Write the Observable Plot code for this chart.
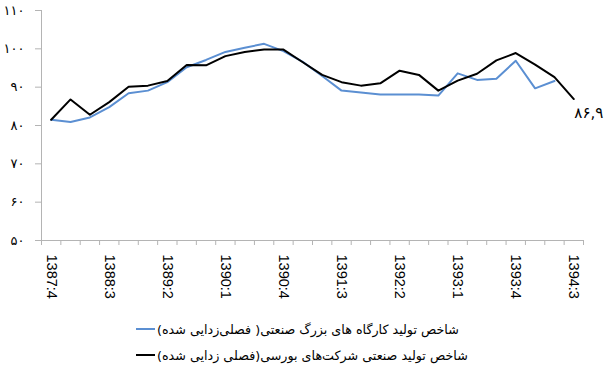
<!DOCTYPE html>
<html><head><meta charset="utf-8">
<script src="https://cdn.jsdelivr.net/npm/d3@7"></script>
<script src="https://cdn.jsdelivr.net/npm/@observablehq/plot@0.6"></script>
<style>
body{margin:0;background:#fff;}
#wrap{position:relative;width:610px;height:372px;overflow:hidden;background:#fff;}
#legend{position:absolute;left:136px;top:316px;font-family:"DejaVu Sans",sans-serif;font-size:12.7px;color:#000;}
.row{display:flex;align-items:center;height:26px;}
.sw{width:19px;height:2px;margin-right:2px;flex:none;}
.lbl{direction:rtl;white-space:nowrap;}
</style></head><body><div id="wrap"></div>
<script>
const quarters = ["1387:4","1388:1","1388:2","1388:3","1388:4","1389:1","1389:2","1389:3","1389:4","1390:1","1390:2","1390:3","1390:4","1391:1","1391:2","1391:3","1391:4","1392:1","1392:2","1392:3","1392:4","1393:1","1393:2","1393:3","1393:4","1394:1","1394:2","1394:3"];
const workshopIndex = [81.5,80.9,82.1,84.8,88.4,89.1,91.3,95.2,97.1,99.2,100.3,101.3,99.4,96.6,92.9,89.1,88.6,88.1,88.1,88.1,87.8,93.6,91.9,92.2,96.9,89.7,91.6];
const bourseIndex = [81.5,86.8,82.8,86.1,90.1,90.4,91.6,95.8,95.7,98.1,99.2,99.8,99.8,96.5,93.2,91.3,90.4,91.0,94.3,93.2,89.1,91.7,93.5,97.0,98.9,95.9,92.6,86.9];
const yTicks = [50,60,70,80,90,100,110];
const labelStep = 3;
const seriesNames = ["شاخص تولید کارگاه های بزرگ صنعتی( فصلی‌زدایی شده)","شاخص تولید صنعتی شرکت‌های بورسی(فصلی زدایی شده)"];
const seriesColors = ["#5b8fd2","#000000"];
const lastLabel = "۸۶,۹";

const fa = s => String(s).replace(/[0-9]/g, d => "۰۱۲۳۴۵۶۷۸۹"[d]);
const n = quarters.length;
const gray = "#b4b4b4";

const chart = Plot.plot({
  width: 610, height: 312,
  marginLeft: 41, marginRight: 27, marginTop: 10, marginBottom: 72,
  style: {background: "#fff", overflow: "visible"},
  x: {type: "linear", domain: [-0.5, n - 0.5]},
  y: {domain: [50, 110]},
  marks: [
    Plot.ruleY([50], {stroke: gray}),
    Plot.ruleX([-0.5], {stroke: gray}),
    Plot.axisY(yTicks, {tickSize: 6, tickPadding: 11, stroke: gray, fill: "#000", tickFormat: fa, fontSize: 13, fontFamily: "DejaVu Sans"}),
    Plot.axisX(d3.range(-0.5, n, 1), {tickSize: 5, stroke: gray, tickFormat: () => ""}),
    Plot.axisX(d3.range(0, n, labelStep), {tickSize: 0, tickPadding: 14, tickRotate: 90, tickFormat: i => quarters[i], fontSize: 14.5, fontFamily: "Liberation Sans", fill: "#000"}),
    Plot.lineY(workshopIndex, {x: (d, i) => i, y: d => d, stroke: seriesColors[0], strokeWidth: 2}),
    Plot.lineY(bourseIndex, {x: (d, i) => i, y: d => d, stroke: seriesColors[1], strokeWidth: 2}),
    Plot.text([n - 1], {x: d => d, y: d => bourseIndex[d], text: () => lastLabel, dx: 15, dy: 14, fontSize: 15, fontFamily: "DejaVu Sans", fill: "#000"})
  ]
});
const wrap = document.getElementById("wrap");
wrap.appendChild(chart);
const legend = document.createElement("div");
legend.id = "legend";
seriesNames.forEach((name, k) => {
  const row = document.createElement("div");
  row.className = "row";
  const sw = document.createElement("span");
  sw.className = "sw"; sw.style.background = seriesColors[k];
  const lbl = document.createElement("span");
  lbl.className = "lbl"; lbl.textContent = name;
  row.appendChild(sw); row.appendChild(lbl);
  legend.appendChild(row);
});
wrap.appendChild(legend);
</script></body></html>
